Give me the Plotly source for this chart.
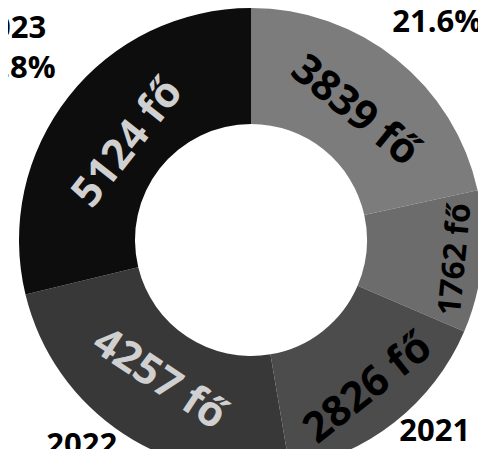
import numpy as np
import plotly.graph_objects as go

years = ["2019", "2020", "2021", "2022", "2023"]
counts = [3839, 1762, 2826, 4257, 5124]
slice_colors = ["#7c7c7c", "#6c6c6c", "#4c4c4c", "#383838", "#0d0d0d"]
inside_text_colors = ["#000000", "#000000", "#000000", "#d0d0d0", "#d0d0d0"]
unit = "fő"

# figure geometry (pixels)
W, H = 486, 464
LABEL_CX, LABEL_CY = 240, 220    # centre of the ring of outer labels
LABEL_RX, LABEL_RY = 302, 287    # distance of outer labels from that centre

vals = np.array(counts, dtype=float)
total = vals.sum()
mid_angles = np.deg2rad((np.cumsum(vals) - vals / 2) / total * 360.0)
outer_labels = [f"{y}<br>{v / total * 100:.1f}%" for y, v in zip(years, vals)]

fig = go.Figure()
fig.add_trace(go.Pie(
    labels=years, values=counts, sort=False, direction="clockwise", rotation=0,
    hole=0.5,
    domain=dict(x=[0, 1], y=[0, 1]),
    marker=dict(colors=slice_colors, line=dict(width=0)),
    textposition="inside", insidetextorientation="tangential",
    texttemplate="%{value:d} " + unit,
    insidetextfont=dict(family="Open Sans", size=42, color=inside_text_colors, weight="bold"),
    showlegend=False, hoverinfo="skip"))

fig.add_trace(go.Scatter(
    x=np.sin(mid_angles), y=np.cos(mid_angles), mode="text",
    text=outer_labels, textposition="middle center",
    textfont=dict(family="Open Sans", size=31, color="#000000", weight="bold"),
    cliponaxis=True, showlegend=False, hoverinfo="skip"))

fig.update_layout(
    width=W, height=H,
    margin=dict(l=0, r=0, t=0, b=0),
    paper_bgcolor="white", plot_bgcolor="rgba(0,0,0,0)",
    xaxis=dict(visible=False, range=[-LABEL_CX / LABEL_RX, (W - LABEL_CX) / LABEL_RX],
               fixedrange=True),
    yaxis=dict(visible=False, range=[-(H - LABEL_CY) / LABEL_RY, LABEL_CY / LABEL_RY],
               fixedrange=True),
)
fig.write_html("out.html")
